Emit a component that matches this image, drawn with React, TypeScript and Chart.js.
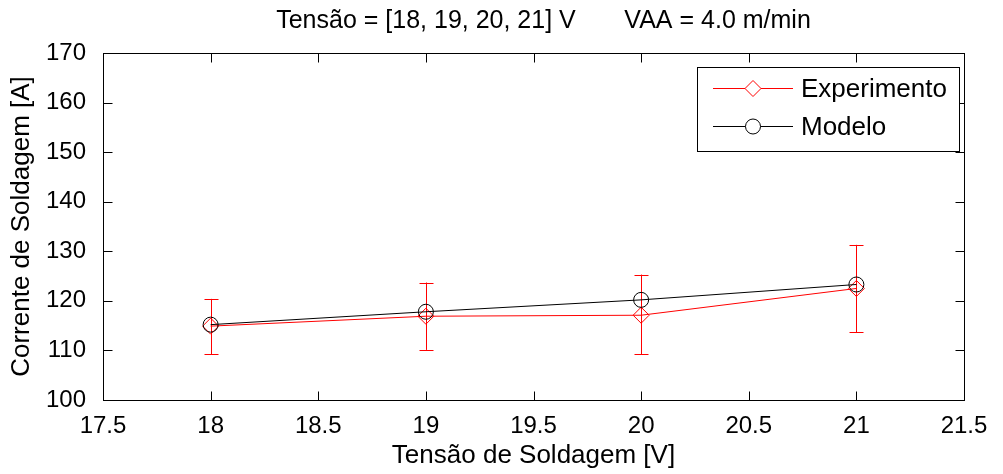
import React, { useEffect, useRef } from "react";
import { Chart, registerables } from "chart.js";

Chart.register(...registerables);

const tensao = [18, 19, 20, 21];
const experimento = [114.9, 116.9, 117.1, 122.5];
const expLower = [109.2, 110.1, 109.2, 113.7];
const expUpper = [120.4, 123.7, 125.3, 131.3];
const modelo = [115.2, 117.8, 120.2, 123.3];
const xTicks = [17.5, 18, 18.5, 19, 19.5, 20, 20.5, 21, 21.5];
const yTicks = [100, 110, 120, 130, 140, 150, 160, 170];
const titleText = "Tensão = [18, 19, 20, 21] V       VAA = 4.0 m/min";
const xTitle = "Tensão de Soldagem [V]";
const yTitle = "Corrente de Soldagem [A]";
const seriesNames = ["Experimento", "Modelo"];

const FONT = "'Liberation Sans', Arial, Helvetica, sans-serif";
const FS = 24;
const TFS = 25;
const AFS = 26;
const LFS = 26;

const matlabPlugin = {
  id: "matlab",
  beforeDatasetsDraw(chart: any) {
    const { ctx, scales } = chart;
    const xs = scales.x, ys = scales.y;
    ctx.save();
    ctx.strokeStyle = "#ff0000";
    ctx.lineWidth = 1;
    for (let i = 0; i < tensao.length; i++) {
      const px = Math.round(xs.getPixelForValue(tensao[i])) + 0.5;
      const y1 = ys.getPixelForValue(expLower[i]);
      const y2 = ys.getPixelForValue(expUpper[i]);
      ctx.beginPath();
      ctx.moveTo(px, y1);
      ctx.lineTo(px, y2);
      ctx.moveTo(px - 7, Math.round(y1) + 0.5);
      ctx.lineTo(px + 7, Math.round(y1) + 0.5);
      ctx.moveTo(px - 7, Math.round(y2) + 0.5);
      ctx.lineTo(px + 7, Math.round(y2) + 0.5);
      ctx.stroke();
    }
    ctx.restore();
  },
  afterDraw(chart: any) {
    const { ctx, chartArea: a, scales } = chart;
    const xs = scales.x, ys = scales.y;
    ctx.save();
    // frame
    ctx.strokeStyle = "#000";
    ctx.lineWidth = 1;
    const L = Math.round(a.left) + 0.5, R = Math.round(a.right) + 0.5;
    const T = Math.round(a.top) + 0.5, B = Math.round(a.bottom) + 0.5;
    ctx.strokeRect(L, T, R - L, B - T);
    const tl = 9;
    ctx.beginPath();
    xTicks.forEach((v) => {
      const px = Math.round(xs.getPixelForValue(v)) + 0.5;
      ctx.moveTo(px, B); ctx.lineTo(px, B - tl);
      ctx.moveTo(px, T); ctx.lineTo(px, T + tl);
    });
    yTicks.forEach((v) => {
      const py = Math.round(ys.getPixelForValue(v)) + 0.5;
      ctx.moveTo(L, py); ctx.lineTo(L + tl, py);
      ctx.moveTo(R, py); ctx.lineTo(R - tl, py);
    });
    ctx.stroke();

    // title
    ctx.fillStyle = "#000";
    ctx.font = `${TFS}px ${FONT}`;
    ctx.textAlign = "center";
    ctx.textBaseline = "middle";
    ctx.fillText(titleText, (a.left + a.right) / 2 + 10, 21);

    // legend
    const bx = 697.5, by = 67.5, bw = 262, bh = 84;
    ctx.fillStyle = "#fff";
    ctx.fillRect(bx, by, bw, bh);
    ctx.strokeStyle = "#000";
    ctx.strokeRect(bx, by, bw, bh);
    const rows = [
      { y: 88.5, color: "#ff0000", style: "diamond" },
      { y: 126.5, color: "#000000", style: "circle" },
    ];
    rows.forEach((r, i) => {
      ctx.strokeStyle = r.color;
      ctx.lineWidth = 1;
      ctx.beginPath();
      ctx.moveTo(713, r.y);
      ctx.lineTo(793, r.y);
      ctx.stroke();
      const cx = 753;
      ctx.beginPath();
      if (r.style === "diamond") {
        ctx.moveTo(cx, r.y - 8);
        ctx.lineTo(cx + 8, r.y);
        ctx.lineTo(cx, r.y + 8);
        ctx.lineTo(cx - 8, r.y);
        ctx.closePath();
      } else {
        ctx.arc(cx, r.y, 7.5, 0, Math.PI * 2);
      }
      ctx.fillStyle = "#fff";
      ctx.fill();
      ctx.stroke();
      ctx.fillStyle = "#000";
      ctx.textAlign = "left";
      ctx.textBaseline = "middle";
      ctx.font = `${LFS}px ${FONT}`;
      ctx.fillText(seriesNames[i], 801, r.y + 1);
    });
    ctx.restore();
  },
};

export default function App() {
  const ref = useRef<HTMLCanvasElement | null>(null);
  useEffect(() => {
    document.body.style.margin = "0";
    const canvas = ref.current!;
    const chart = new Chart(canvas, {
      type: "line",
      data: {
        datasets: [
          {
            label: seriesNames[1],
            data: tensao.map((x, i) => ({ x, y: modelo[i] })),
            borderColor: "#000000",
            borderWidth: 1,
            pointStyle: "circle",
            pointRadius: 7.5,
            pointBorderColor: "#000000",
            pointBackgroundColor: "rgba(0,0,0,0)",
            pointBorderWidth: 1,
            order: 0,
          },
          {
            label: seriesNames[0],
            data: tensao.map((x, i) => ({ x, y: experimento[i] })),
            borderColor: "#ff0000",
            borderWidth: 1,
            pointStyle: "rectRot",
            pointRadius: 8,
            pointBorderColor: "#ff0000",
            pointBackgroundColor: "rgba(0,0,0,0)",
            pointBorderWidth: 1,
            order: 1,
          },
        ],
      },
      options: {
        animation: false,
        responsive: false,
        devicePixelRatio: 1,
        layout: { padding: { top: 53, left: 0, right: 39, bottom: 0 } },
        plugins: { legend: { display: false }, title: { display: false }, tooltip: { enabled: false } },
        scales: {
          x: {
            type: "linear",
            min: 17.5,
            max: 21.5,
            grid: { display: false },
            border: { display: false },
            afterFit: (s: any) => { s.height = 74; },
            afterBuildTicks: (s: any) => { s.ticks = xTicks.map((v) => ({ value: v })); },
            ticks: {
              padding: 4,
              color: "#000",
              font: { family: FONT, size: FS },
              callback: (v: any) => String(v),
            },
            title: {
              display: true,
              text: xTitle,
              color: "#000",
              font: { family: FONT, size: AFS },
              padding: { top: 0, bottom: 3 },
            },
          },
          y: {
            type: "linear",
            min: 100,
            max: 170,
            grid: { display: false },
            border: { display: false },
            afterFit: (s: any) => { s.width = 103; },
            afterBuildTicks: (s: any) => { s.ticks = yTicks.map((v) => ({ value: v })); },
            ticks: {
              padding: 9,
              color: "#000",
              font: { family: FONT, size: FS },
              callback: (v: any) => String(v),
            },
            title: {
              display: true,
              text: yTitle,
              color: "#000",
              font: { family: FONT, size: AFS },
              padding: { top: 6, bottom: 0 },
            },
          },
        },
      },
      plugins: [matlabPlugin],
    } as any);
    return () => chart.destroy();
  }, []);
  return (
    <div style={{ position: "absolute", left: 0, top: 0, width: 1003, height: 474, background: "#fff" }}>
      <canvas ref={ref} width={1003} height={474} style={{ width: 1003, height: 474, display: "block" }} />
    </div>
  );
}
